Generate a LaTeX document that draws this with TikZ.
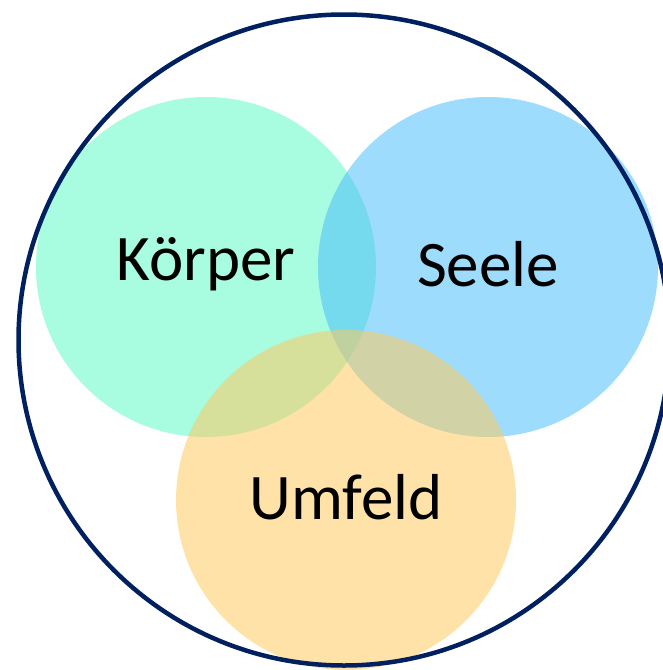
\documentclass[tikz,border=0pt]{standalone}
\usepackage{fontspec}
\setmainfont{Carlito}
\definecolor{kcol}{RGB}{97,249,199}
\definecolor{scol}{RGB}{77,191,251}
\definecolor{ucol}{RGB}{255,202,97}
\definecolor{navy}{RGB}{0,32,96}
\begin{document}
\begin{tikzpicture}[x=1pt,y=-1pt,
  venn/.style={circle,minimum size=340pt,inner sep=0pt,fill opacity=0.55,text opacity=1},
  lbl/.style={font=\fontsize{65}{78}\selectfont,inner sep=0pt},
  outer/.style={circle,draw=navy,line width=4.5pt,minimum size=651pt,inner sep=0pt}]
\useasboundingbox (0,0) rectangle (663,670);
\node[venn,fill=kcol] (k) at (206,267) {};
\node[venn,fill=scol] (s) at (488,267) {};
\node[venn,fill=ucol] (u) at (346,500) {};
\node[outer] (all) at (344,340) {};
\node[lbl] (kt) at ([yshift=3pt]k.center) {Körper};
\node[lbl] (st) at ([yshift=3pt]s.center) {Seele};
\node[lbl] (ut) at ([yshift=3pt]u.center) {Umfeld};
\end{tikzpicture}
\end{document}
